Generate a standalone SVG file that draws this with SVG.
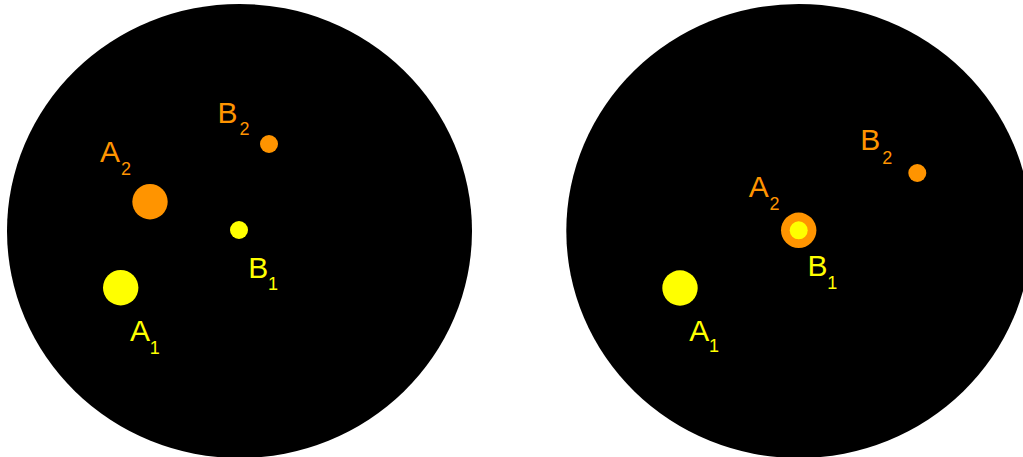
<svg xmlns="http://www.w3.org/2000/svg" width="1023" height="457" viewBox="0 0 1023 457">
  <style>
    .disk { fill: #000000; }
    .or { fill: #ff9400; }
    .ye { fill: #ffff00; }
    .lbl { font-family: "Liberation Sans", Arial, sans-serif; font-size: 30px; }
    .sub { font-family: "Liberation Sans", Arial, sans-serif; font-size: 18px; }
  </style>
  <rect width="1023" height="457" fill="#ffffff"/>
  <g id="left-field">
    <ellipse class="disk" cx="239.5" cy="231" rx="232.5" ry="227"/>
  </g>
  <g id="right-field">
    <ellipse class="disk" cx="798.8" cy="231" rx="232.5" ry="227"/>
  </g>
  <g id="connectors"></g>
  <g id="left-A2">
    <circle class="or" cx="150" cy="201.7" r="17.7"/>
    <text class="lbl or" x="100" y="162">A</text>
    <text class="sub or" x="121" y="174.5">2</text>
  </g>
  <g id="left-B2">
    <circle class="or" cx="269" cy="144" r="9"/>
    <text class="lbl or" x="217.6" y="122.5">B</text>
    <text class="sub or" x="239.5" y="135">2</text>
  </g>
  <g id="left-B1">
    <circle class="ye" cx="239" cy="230" r="9"/>
    <text class="lbl ye" x="248.3" y="277.5">B</text>
    <text class="sub ye" x="268" y="290">1</text>
  </g>
  <g id="left-A1">
    <circle class="ye" cx="120.7" cy="287.7" r="17.7"/>
    <text class="lbl ye" x="130" y="341">A</text>
    <text class="sub ye" x="149.7" y="353.5">1</text>
  </g>
  <g id="right-A2">
    <circle class="or" cx="798.7" cy="230.3" r="17.7"/>
    <text class="lbl or" x="748.7" y="197">A</text>
    <text class="sub or" x="769.5" y="209.5">2</text>
  </g>
  <g id="right-B1">
    <circle class="ye" cx="798.7" cy="230.3" r="9"/>
    <text class="lbl ye" x="807.6" y="276">B</text>
    <text class="sub ye" x="827.3" y="289">1</text>
  </g>
  <g id="right-B2">
    <circle class="or" cx="917.3" cy="173" r="9"/>
    <text class="lbl or" x="860.3" y="150">B</text>
    <text class="sub or" x="882.2" y="163.5">2</text>
  </g>
  <g id="right-A1">
    <circle class="ye" cx="680" cy="288" r="17.7"/>
    <text class="lbl ye" x="689.3" y="340.5">A</text>
    <text class="sub ye" x="709" y="352">1</text>
  </g>
</svg>
